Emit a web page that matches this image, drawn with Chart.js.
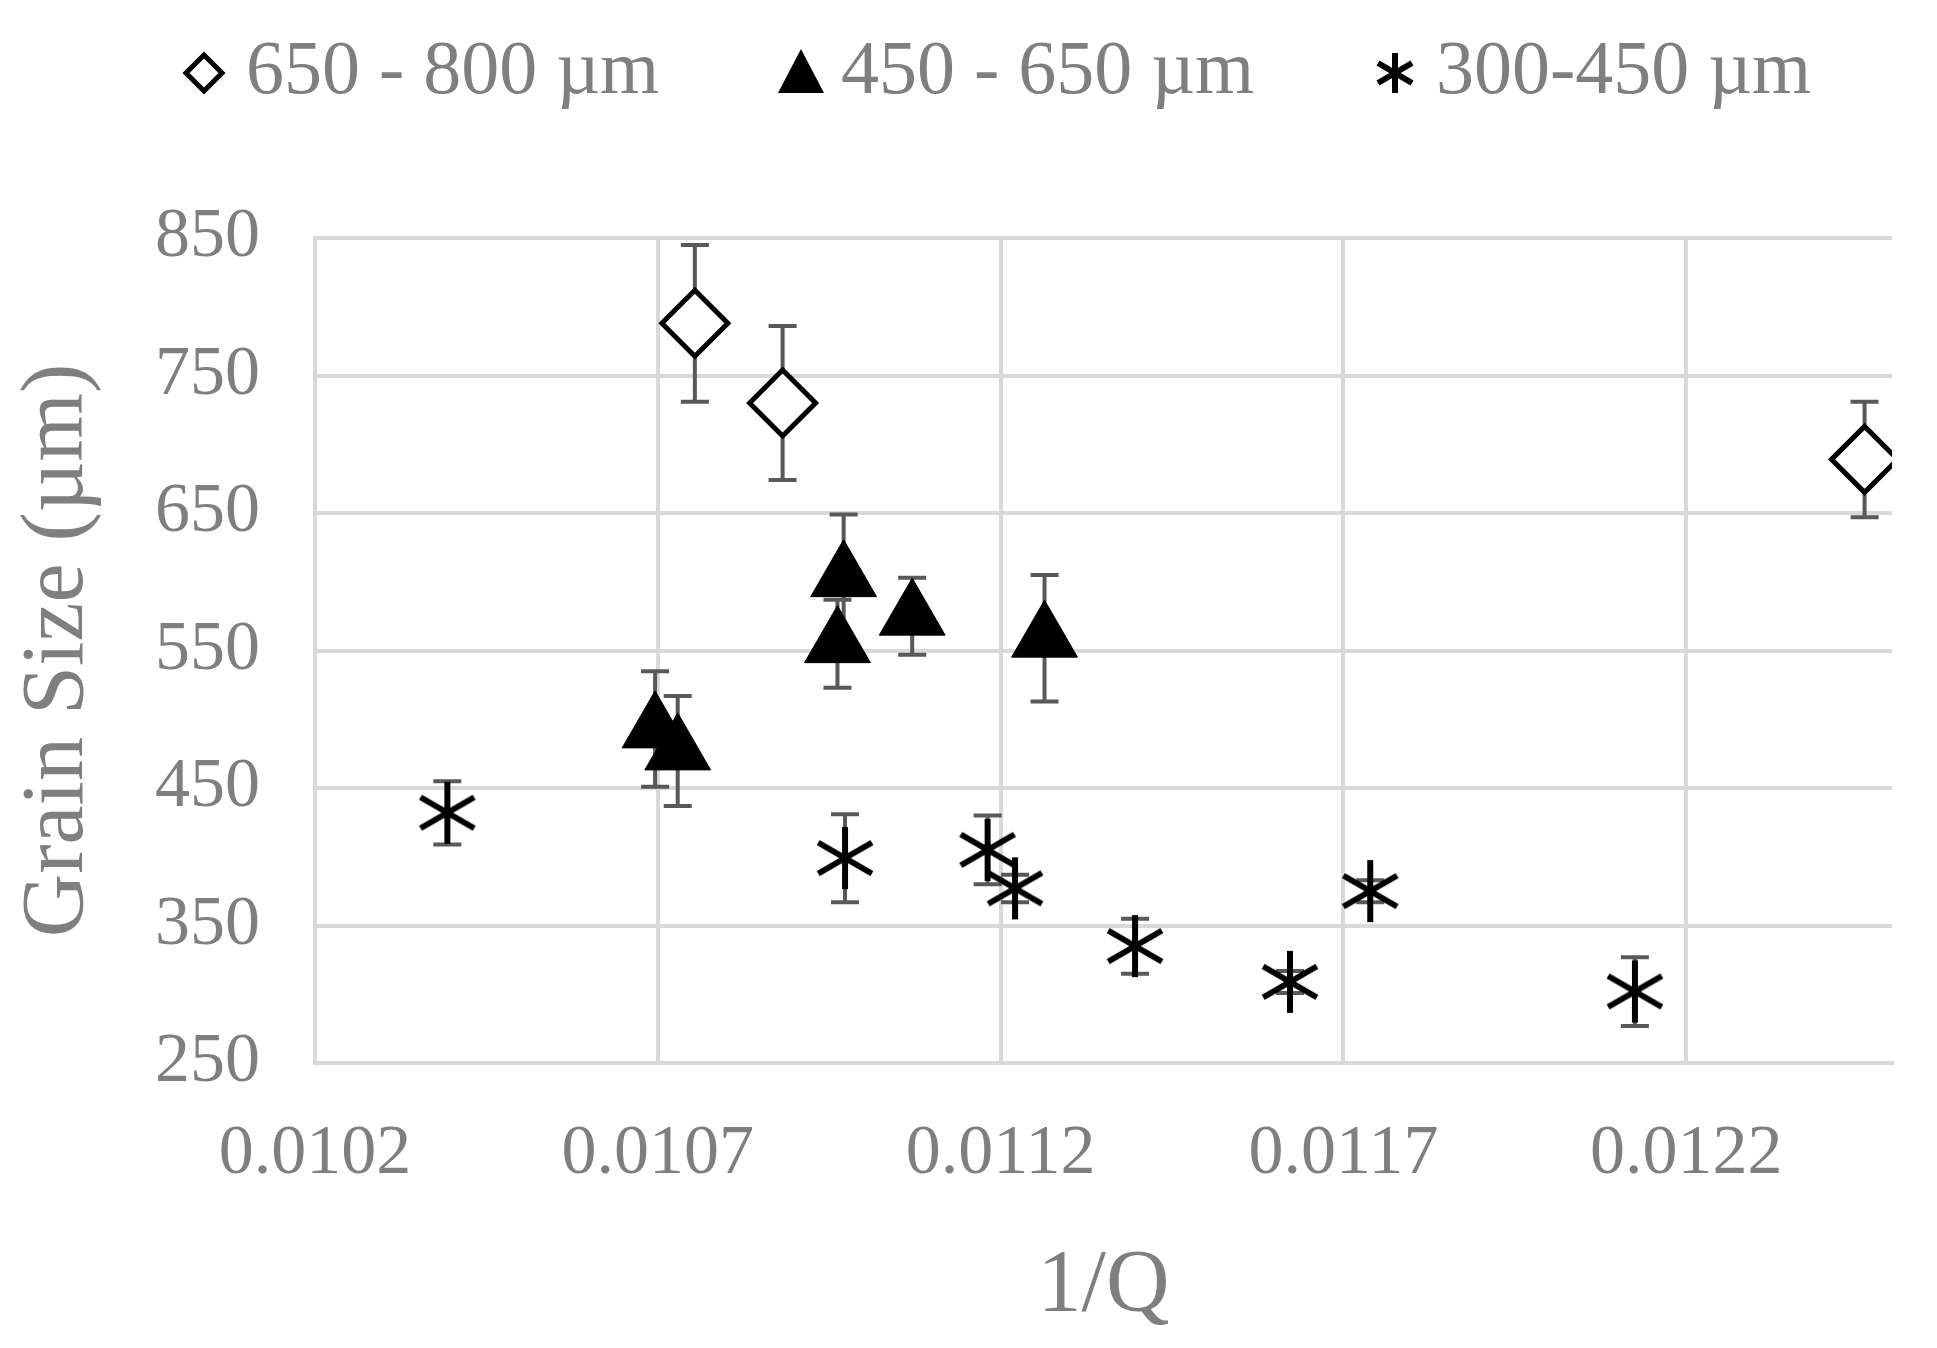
<!DOCTYPE html>
<html><head><meta charset="utf-8">
<script src="https://cdn.jsdelivr.net/npm/chart.js@4.4.0/dist/chart.umd.min.js"></script>
<style>html,body{margin:0;background:#fff}#w{width:1937px;height:1348px}</style>
</head><body><div id="w"><canvas id="c"></canvas></div>
<script>
const xTicks=[0.0102,0.0107,0.0112,0.0117,0.0122];
const yTicks=[250,350,450,550,650,750,850];
const s1x=[0.010754,0.010882,0.012460];
const s1y=[788,730,689];
const s1e=[57,56,42];
const s2x=[0.010696,0.010729,0.010971,0.010962,0.011071,0.011264];
const s2y=[493,477,603,555,575,559];
const s2e=[42,40,46,32,28,46];
const s3x=[0.010393,0.010973,0.011181,0.011221,0.011396,0.011622,0.011739,0.012125];
const s3y=[432,399,405,377,335,309,375,302];
const s3e=[23,32,25,10,20,8,8,25];
const labels=['650 - 800 µm','450 - 650 µm','300-450 µm'];

function starImg(s,lw){const c=document.createElement('canvas');c.width=c.height=s;const g=c.getContext('2d');
g.strokeStyle='#000';g.lineWidth=lw;const r=s/2-lw/2,m=s/2;g.beginPath();
for(const a of [90,30,-30]){const t=a*Math.PI/180;g.moveTo(m+r*Math.cos(t),m-r*Math.sin(t));g.lineTo(m-r*Math.cos(t),m+r*Math.sin(t));}
g.stroke();return c;}
const starBig=starImg(68,6);

const pts=(xs,ys)=>xs.map((x,i)=>({x,y:ys[i]}));
const errs=[s1e,s2e,s3e];
const errPlugin={id:'eb',beforeDatasetsDraw(ch){const g=ch.ctx,xs=ch.scales.x,ys=ch.scales.y;
g.save();g.strokeStyle='#595959';g.lineWidth=4;
ch.data.datasets.forEach((d,k)=>d.data.forEach((p,i)=>{const e=errs[k][i];const px=xs.getPixelForValue(p.x);
const t=ys.getPixelForValue(p.y+e),b=ys.getPixelForValue(p.y-e);g.beginPath();g.moveTo(px,t);g.lineTo(px,b);
g.moveTo(px-14,t);g.lineTo(px+14,t);g.moveTo(px-14,b);g.lineTo(px+14,b);g.stroke();}));g.restore();}};

const F='"Liberation Serif","DejaVu Serif",serif';
const legendPlugin={id:'lg',afterDraw(ch){const g=ch.ctx;g.save();const y=73;
// diamond
g.lineWidth=5;g.strokeStyle='#000';g.fillStyle='#fff';g.beginPath();g.moveTo(204,y-18);g.lineTo(222,y);g.lineTo(204,y+18);g.lineTo(186,y);g.closePath();g.fill();g.stroke();
// triangle
g.fillStyle='#000';g.beginPath();g.moveTo(801,y-24);g.lineTo(824,y+20);g.lineTo(778,y+20);g.closePath();g.fill();
// star
g.lineWidth=6;g.beginPath();g.moveTo(1395,y-20);g.lineTo(1395,y+20);g.moveTo(1378,y-10);g.lineTo(1412,y+10);g.moveTo(1378,y+10);g.lineTo(1412,y-10);g.stroke();
g.fillStyle='#7f7f7f';g.font='76px '+F;g.textBaseline='middle';
g.fillText(labels[0],246,y);g.fillText(labels[1],841,y);g.fillText(labels[2],1436,y);g.restore();}};

new Chart(document.getElementById('c'),{type:'scatter',
data:{datasets:[
{label:labels[0],data:pts(s1x,s1y),pointStyle:'rectRot',pointRadius:33,backgroundColor:'#fff',borderColor:'#000',borderWidth:5},
{label:labels[1],data:pts(s2x,s2y),pointStyle:'triangle',pointRadius:38,backgroundColor:'#000',borderColor:'#000',borderWidth:1},
{label:labels[2],data:pts(s3x,s3y),pointStyle:starBig,backgroundColor:'#000',borderColor:'#000'}]},
options:{responsive:true,maintainAspectRatio:false,animation:false,
layout:{padding:{left:0,right:45,top:238,bottom:0}},
plugins:{tooltip:{enabled:false},legend:{display:false}},
scales:{
x:{type:'linear',min:0.0102,max:0.0125,afterBuildTicks(a){a.ticks=xTicks.map(v=>({value:v}));},
afterFit(s){s.height=285;},
ticks:{color:'#7f7f7f',font:{family:F,size:70},padding:50,maxRotation:0,callback:v=>v.toFixed(4)},
grid:{color:'#d9d9d9',lineWidth:4,drawTicks:false},border:{color:'#d9d9d9',width:4},
title:{display:true,text:'1/Q',color:'#7f7f7f',font:{family:F,size:88},padding:{top:0,bottom:8}}},
y:{min:250,max:850,afterBuildTicks(a){a.ticks=yTicks.map(v=>({value:v}));},
afterFit(s){s.width=315;},
ticks:{color:'#7f7f7f',font:{family:F,size:70},padding:55},
grid:{color:'#d9d9d9',lineWidth:4,drawTicks:false},border:{color:'#d9d9d9',width:4},
title:{display:true,text:'Grain Size (µm)',color:'#7f7f7f',font:{family:F,size:88},padding:{top:6,bottom:0}}}}},
plugins:[errPlugin,legendPlugin]});
</script></body></html>
